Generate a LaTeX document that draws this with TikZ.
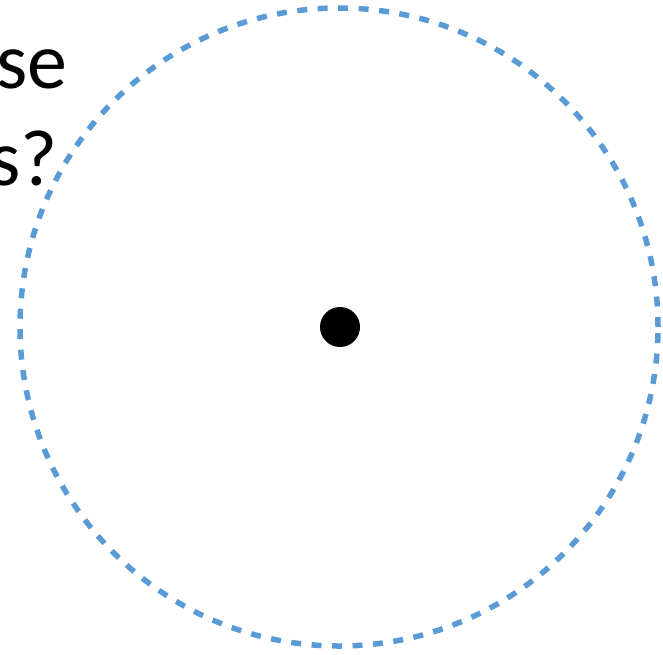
\documentclass[tikz,border=0pt]{standalone}
\usepackage{fontspec}
\setmainfont{Carlito}
\begin{document}
\begin{tikzpicture}[x=1pt,y=1pt,
  ring/.style={circle,draw={rgb,255:red,91;green,155;blue,213},line width=5.5pt,dash pattern=on 10pt off 10.5pt,minimum size=638pt,inner sep=0pt},
  dotmark/.style={circle,fill=black,minimum size=40pt,inner sep=0pt},
  txt/.style={font=\fontsize{80}{96}\selectfont,inner sep=0pt,anchor=base east}]
\useasboundingbox (0,0) rectangle (663,-654);
\clip (0,0) rectangle (663,-654);
\node[ring] (c) at (339,-327) {};
\node[dotmark] (d) at (340,-327) {};
\node[txt] (t1) at (68,-88) {se};
\node[txt] (t2) at (58,-185) {s?};
\end{tikzpicture}
\end{document}
